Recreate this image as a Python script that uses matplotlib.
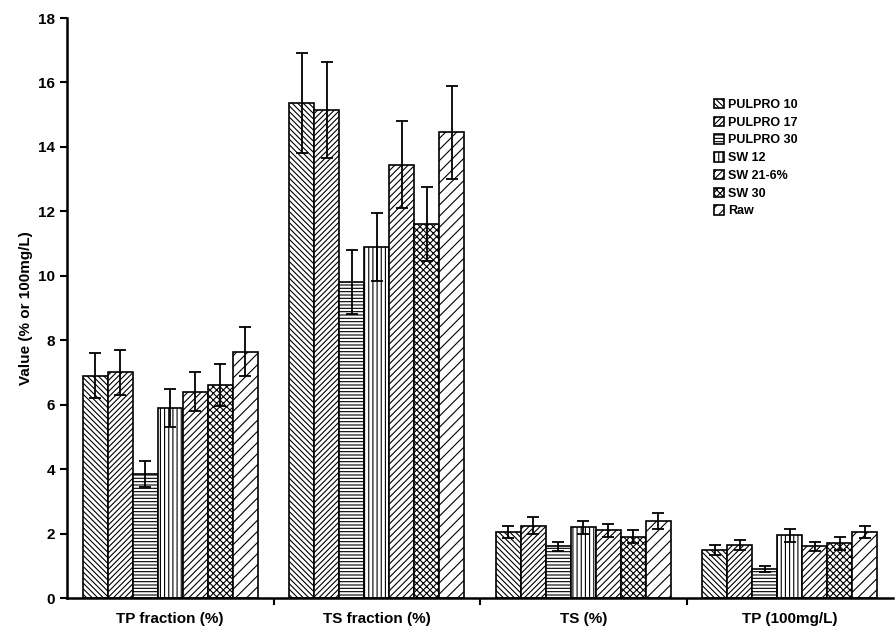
import numpy as np
import matplotlib
matplotlib.use('Agg')
import matplotlib.pyplot as plt

plt.rcParams['font.family'] = ['Liberation Sans', 'DejaVu Sans']
plt.rcParams['font.weight'] = 'bold'
plt.rcParams['hatch.linewidth'] = 0.8

categories = ["TP fraction (%)", "TS fraction (%)", "TS (%)", "TP (100mg/L)"]
series = ["PULPRO 10", "PULPRO 17", "PULPRO 30", "SW 12", "SW 21-6%", "SW 30", "Raw"]
values = [
    [6.9, 15.35, 2.05, 1.5],
    [7.0, 15.15, 2.25, 1.65],
    [3.85, 9.8, 1.6, 0.9],
    [5.9, 10.9, 2.2, 1.95],
    [6.4, 13.45, 2.1, 1.6],
    [6.6, 11.6, 1.9, 1.7],
    [7.65, 14.45, 2.4, 2.05],
]
errors = [
    [0.7, 1.55, 0.2, 0.15],
    [0.7, 1.5, 0.25, 0.15],
    [0.4, 1.0, 0.15, 0.08],
    [0.6, 1.05, 0.2, 0.2],
    [0.6, 1.35, 0.2, 0.15],
    [0.65, 1.15, 0.2, 0.2],
    [0.75, 1.45, 0.25, 0.2],
]
hatches = ['\\\\\\\\\\\\', '//////', '-----', '||||', '/////', 'xxxxx', '///']

fig = plt.figure(figsize=(8.96, 6.35), dpi=100)
ax = fig.add_axes([67 / 896, 1 - 598 / 635, (893 - 67) / 896, (598 - 18) / 635])

x = np.arange(len(categories))
w = 0.121
for i, s in enumerate(series):
    ax.bar(x + (i - 3) * w, values[i], w, yerr=errors[i], color='white',
           edgecolor='black', linewidth=1.2, hatch=hatches[i], label=s,
           error_kw=dict(ecolor='black', elinewidth=1.3, capsize=4, capthick=1.3))

ax.set_xlim(-0.5, 3.5)
ax.set_ylim(0, 18)
ax.set_yticks(np.arange(0, 19, 2))
ax.set_xticks([0.5, 1.5, 2.5], minor=False)
ax.set_xticklabels([])
ax.set_xticks(x, minor=True)
ax.set_xticklabels(categories, minor=True, fontsize=11, fontweight='bold')
ax.tick_params(axis='x', which='minor', length=0, pad=10)
ax.tick_params(axis='x', which='major', length=5, width=1.5, direction='out')
ax.tick_params(axis='y', labelsize=11, width=1.5, length=5)
for side in ['top', 'right']:
    ax.spines[side].set_visible(False)
for side in ['left', 'bottom']:
    ax.spines[side].set_linewidth(1.8)
ax.set_ylabel("Value (% or 100mg/L)", fontsize=11, fontweight='bold')

ax.legend(loc='upper left', bbox_to_anchor=(0.77, 0.88), frameon=False,
          handlelength=0.8, handleheight=0.8, handletextpad=0.3,
          labelspacing=0.45, prop={'weight': 'bold', 'size': 9})

fig.savefig("out.png", dpi=100)
